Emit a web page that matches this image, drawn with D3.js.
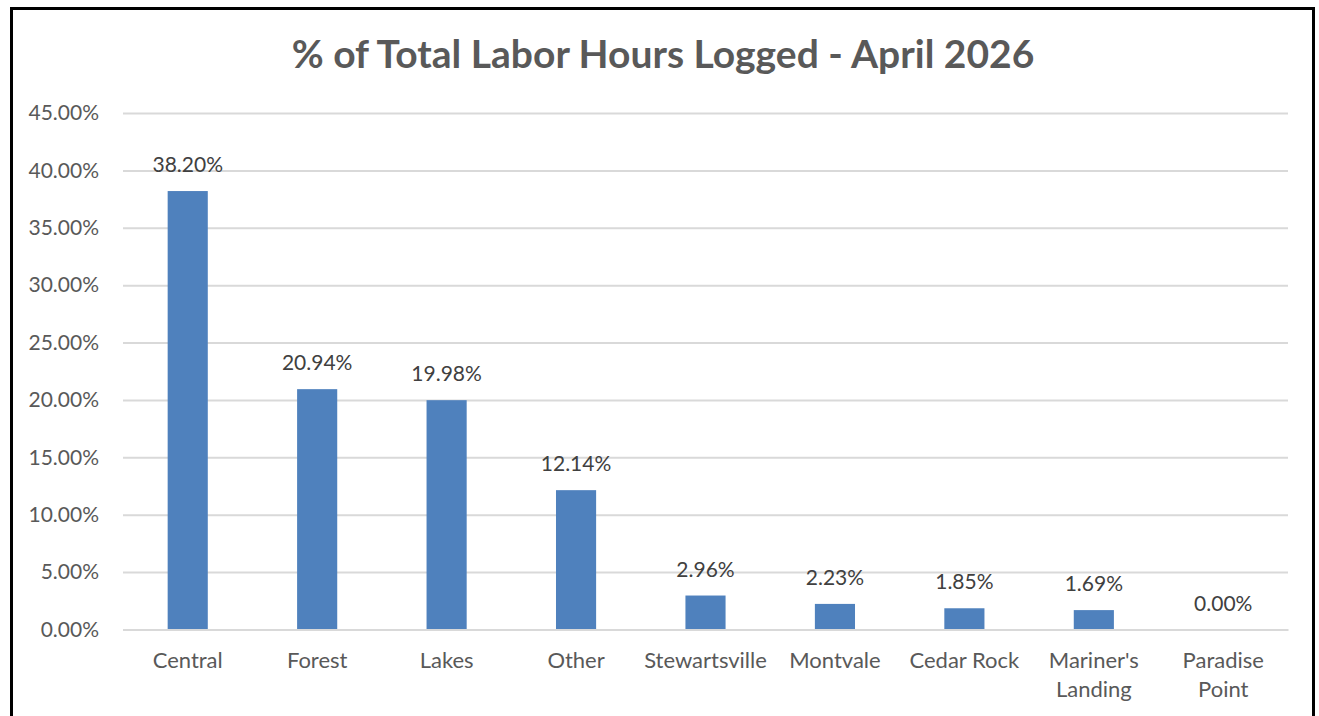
<!DOCTYPE html>
<html><head><meta charset="utf-8">
<script src="https://cdn.jsdelivr.net/npm/d3@7"></script>
<style>
html,body{margin:0;padding:0;background:#fff;}
svg{display:block;}
</style></head>
<body>
<svg id="chart" width="1319" height="716"></svg>
<script>
const categories = [["Central"],["Forest"],["Lakes"],["Other"],["Stewartsville"],["Montvale"],["Cedar Rock"],["Mariner's","Landing"],["Paradise","Point"]];
const values = [38.20, 20.94, 19.98, 12.14, 2.96, 2.23, 1.85, 1.69, 0.00];
const yTicks = [0,5,10,15,20,25,30,35,40,45];
const title = "% of Total Labor Hours Logged - April 2026";

const FONT = "Lato, 'Open Sans', sans-serif";
const svg = d3.select("#chart");
const plot = {left:123, right:1288, top:113, bottom:629.5};

// border
svg.append("rect").attr("x",11.5).attr("y",8.5).attr("width",1302).attr("height",740)
  .attr("fill","#fff").attr("stroke","#000").attr("stroke-width",3);

svg.append("text").attr("x",663).attr("y",68)
  .attr("text-anchor","middle").attr("font-family",FONT).attr("font-weight","bold")
  .attr("font-size",39).attr("fill","#595959").text(title);

const keys = categories.map(c=>c.join(" "));
const x = d3.scaleBand().domain(keys).range([plot.left,plot.right]).paddingInner(0.69).paddingOuter(0.345);
const y = d3.scaleLinear().domain([0,45]).range([plot.bottom,plot.top]);

// gridlines + value axis
const yAxis = d3.axisLeft(y).tickValues(yTicks).tickSize(-(plot.right-plot.left)).tickPadding(24)
  .tickFormat(d=>d.toFixed(2)+"%");
const gy = svg.append("g").attr("transform",`translate(${plot.left},0)`).call(yAxis);
gy.select(".domain").remove();
gy.selectAll(".tick line").attr("stroke","#D9D9D9").attr("stroke-width",2);
gy.selectAll(".tick text").attr("font-family",FONT).attr("font-size",21).attr("fill","#595959");

// bars
svg.append("g").selectAll("rect").data(values).join("rect")
  .attr("x",(d,i)=>x(keys[i])).attr("width",x.bandwidth())
  .attr("y",d=>y(d)).attr("height",d=>y(0)-y(d)).attr("fill","#4F81BD");

// data labels
svg.append("g").selectAll("text").data(values).join("text")
  .attr("x",(d,i)=>x(keys[i])+x.bandwidth()/2).attr("y",d=>y(d)-19)
  .attr("text-anchor","middle").attr("font-family",FONT).attr("font-size",21).attr("fill","#404040")
  .text(d=>d.toFixed(2)+"%");

// category axis
const xAxis = d3.axisBottom(x).tickSize(0).tickFormat("");
const gx = svg.append("g").attr("transform",`translate(0,${plot.bottom})`).call(xAxis);
gx.select(".domain").attr("stroke","#D9D9D9").attr("stroke-width",2);
gx.selectAll(".tick").each(function(d,i){
  const t = d3.select(this).append("text").attr("text-anchor","middle").attr("font-family",FONT)
    .attr("font-size",22).attr("fill","#595959");
  categories[i].forEach((line,j)=>{
    t.append("tspan").attr("x",0).attr("y",38+j*29).text(line);
  });
});
</script>
</body></html>
